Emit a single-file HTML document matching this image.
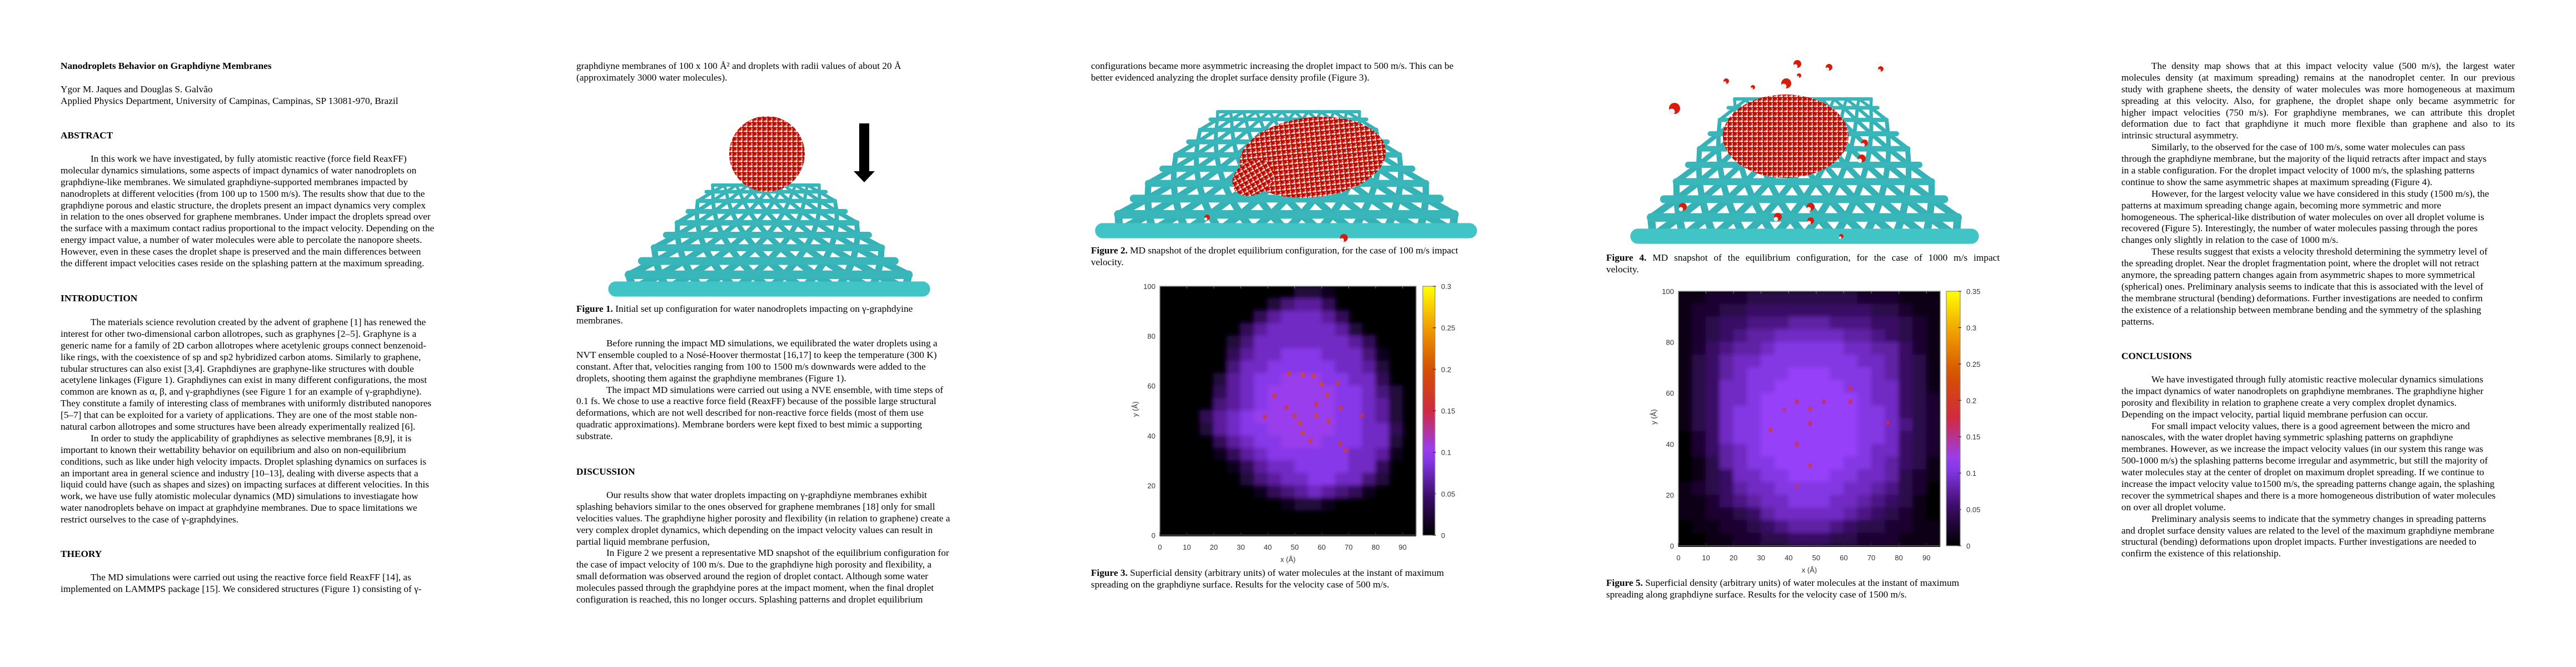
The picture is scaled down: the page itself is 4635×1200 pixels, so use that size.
<!DOCTYPE html>
<html><head><meta charset="utf-8">
<style>
html,body{margin:0;padding:0;background:#fff;}
body{width:4635px;height:1200px;position:relative;overflow:hidden;}
.blk{position:absolute;font:17.3px/20.9px "Liberation Serif","Times New Roman",serif;color:#000;white-space:nowrap;}
.blk div{height:20.9px;}
.in{padding-left:54px;}
.b{font-weight:bold;}
.jl{white-space:normal;text-align:justify;text-align-last:justify;overflow:hidden;}
#gfx{position:absolute;left:0;top:0;}
</style></head>
<body>
<svg id="gfx" width="4635" height="1200">
<defs>
<pattern id="waterPat" patternUnits="userSpaceOnUse" width="9" height="9">
<rect width="9" height="9" fill="#d21a0c"/>
<circle cx="2" cy="2" r="1.9" fill="#f4f4f4"/>
<circle cx="6.5" cy="6" r="2.6" fill="#a80e06"/>
<circle cx="7.5" cy="2.5" r="1.2" fill="#ffffff"/>
<circle cx="3" cy="7" r="1.1" fill="#ffffff"/>
</pattern>
<filter id="blur6" x="-5%" y="-5%" width="110%" height="110%"><feGaussianBlur stdDeviation="4"/></filter>
<filter id="blur1"><feGaussianBlur stdDeviation="1.2"/></filter>
</defs>
</svg>

<!-- Column 1 -->
<div class="blk" style="left:109px;top:109px;width:710px">
<div class="b">Nanodroplets Behavior on Graphdiyne Membranes</div>
</div>
<div class="blk" style="left:109px;top:151px">
<div>Ygor M. Jaques and Douglas S. Galvão</div>
<div>Applied Physics Department, University of Campinas, Campinas, SP 13081-970, Brazil</div>
</div>
<div class="blk b" style="left:109px;top:234px"><div>ABSTRACT</div></div>
<div class="blk" style="left:109px;top:276px">
<div class="in">In this work we have investigated, by fully atomistic reactive (force field ReaxFF)</div>
<div>molecular dynamics simulations, some aspects of impact dynamics of water nanodroplets on</div>
<div>graphdiyne-like membranes. We simulated graphdiyne-supported membranes impacted by</div>
<div>nanodroplets at different velocities (from 100 up to 1500 m/s). The results show that due to the</div>
<div>graphdiyne porous and elastic structure, the droplets present an impact dynamics very complex</div>
<div>in relation to the ones observed for graphene membranes. Under impact the droplets spread over</div>
<div>the surface with a maximum contact radius proportional to the impact velocity. Depending on the</div>
<div>energy impact value, a number of water molecules were able to percolate the nanopore sheets.</div>
<div>However, even in these cases the droplet shape is preserved and the main differences between</div>
<div>the different impact velocities cases reside on the splashing pattern at the maximum spreading.</div>
</div>
<div class="blk b" style="left:109px;top:527px"><div>INTRODUCTION</div></div>
<div class="blk" style="left:109px;top:570px">
<div class="in">The materials science revolution created by the advent of graphene [1] has renewed the</div>
<div>interest for other two-dimensional carbon allotropes, such as graphynes  [2–5]. Graphyne is a</div>
<div>generic name for a family of 2D carbon allotropes where acetylenic groups connect benzenoid-</div>
<div>like rings, with the coexistence of sp and sp2 hybridized carbon atoms. Similarly to graphene,</div>
<div>tubular structures can also exist [3,4]. Graphdiynes are graphyne-like structures with double</div>
<div>acetylene linkages (Figure 1). Graphdiynes can exist in many different configurations, the most</div>
<div>common are known as α, β, and γ-graphdiynes (see Figure 1 for an example of γ-graphdiyne).</div>
<div>They constitute a family of interesting class of membranes with uniformly distributed nanopores</div>
<div>[5–7] that can be exploited for a variety of applications. They are one of the most stable non-</div>
<div>natural carbon allotropes and some structures have been already experimentally realized [6].</div>
<div class="in">In order to study the applicability of graphdiynes as selective membranes [8,9], it is</div>
<div>important to known their wettability behavior on equilibrium and also on non-equilibrium</div>
<div>conditions, such as like under high velocity impacts. Droplet splashing dynamics on surfaces is</div>
<div>an important area in general science and industry [10–13], dealing with diverse aspects that a</div>
<div>liquid could have (such as shapes and sizes) on impacting surfaces at different velocities. In this</div>
<div>work, we have use fully atomistic molecular dynamics (MD) simulations to investiagate how</div>
<div>water nanodroplets behave on impact at graphdyine membranes. Due to space limitations we</div>
<div>restrict ourselves to the case of γ-graphdyines.</div>
</div>
<div class="blk b" style="left:109px;top:987px"><div>THEORY</div></div>
<div class="blk" style="left:109px;top:1029px">
<div class="in">The MD simulations were carried out using the reactive force field ReaxFF [14], as</div>
<div>implemented on LAMMPS package [15]. We considered structures (Figure 1) consisting of γ-</div>
</div>

<!-- Column 2 -->
<div class="blk" style="left:1037px;top:109px">
<div>graphdiyne membranes of 100 x 100 Å² and droplets with radii values of about 20 Å</div>
<div>(approximately 3000 water molecules).</div>
</div>
<div class="blk" style="left:1037px;top:546px">
<div><span class="b">Figure 1.</span> Initial set up configuration for water nanodroplets impacting on γ-graphdyine</div>
<div>membranes.</div>
</div>
<div class="blk" style="left:1037px;top:608px">
<div class="in">Before running the impact MD simulations, we equilibrated the water droplets using a</div>
<div>NVT ensemble coupled to a Nosé-Hoover thermostat [16,17] to keep the temperature (300 K)</div>
<div>constant. After that, velocities ranging from 100 to 1500 m/s downwards were added to the</div>
<div>droplets, shooting them against the graphdiyne membranes (Figure 1).</div>
<div class="in">The impact MD simulations were carried out using a NVE ensemble, with time steps of</div>
<div>0.1 fs. We chose to use a reactive force field (ReaxFF) because of the possible large structural</div>
<div>deformations, which are not well described for non-reactive force fields (most of them use</div>
<div>quadratic approximations). Membrane borders were kept fixed to best mimic a supporting</div>
<div>substrate.</div>
</div>
<div class="blk b" style="left:1037px;top:839px"><div>DISCUSSION</div></div>
<div class="blk" style="left:1037px;top:881px">
<div class="in">Our results show that water droplets impacting on γ-graphdiyne membranes exhibit</div>
<div>splashing behaviors similar to the ones observed for graphene membranes [18] only for small</div>
<div>velocities values. The graphdiyne higher porosity and flexibility (in relation to graphene) create a</div>
<div>very complex droplet dynamics, which depending on the impact velocity values can result in</div>
<div>partial liquid membrane perfusion,</div>
<div class="in">In Figure 2 we present a representative MD snapshot of the equilibrium configuration for</div>
<div>the case of impact velocity of 100 m/s. Due to the graphdiyne high porosity and flexibility, a</div>
<div>small deformation was observed around the region of droplet contact. Although some water</div>
<div>molecules passed through the graphdyine pores at the impact moment, when the final droplet</div>
<div>configuration is reached, this no longer occurs. Splashing patterns and droplet equilibrium</div>
</div>

<!-- Column 3 -->
<div class="blk" style="left:1963px;top:109px">
<div>configurations became more asymmetric increasing the droplet impact to 500 m/s. This can be</div>
<div>better evidenced analyzing the droplet surface density profile (Figure 3).</div>
</div>
<div class="blk" style="left:1963px;top:441px">
<div><span class="b">Figure 2.</span> MD snapshot of the droplet equilibrium configuration, for the case of 100 m/s impact</div>
<div>velocity.</div>
</div>
<div class="blk" style="left:1963px;top:1021px">
<div><span class="b">Figure 3.</span> Superficial density (arbitrary units) of water molecules at the instant of maximum</div>
<div>spreading on the graphdiyne surface. Results for the velocity case of 500 m/s.</div>
</div>

<!-- Column 4 -->
<div class="blk" style="left:2890px;top:454px;width:708px">
<div class="jl"><span class="b">Figure 4.</span> MD snapshot of the equilibrium configuration, for the case of 1000 m/s impact</div>
<div>velocity.</div>
</div>
<div class="blk" style="left:2890px;top:1039px">
<div><span class="b">Figure 5.</span> Superficial density (arbitrary units) of water molecules at the instant of maximum</div>
<div>spreading along graphdiyne surface. Results for the velocity case of 1500 m/s.</div>
</div>

<!-- Column 5 -->
<div class="blk" style="left:3817px;top:109px;width:708px">
<div class="jl in">The density map shows that at this impact velocity value (500 m/s), the largest water</div>
<div class="jl">molecules density (at maximum spreading) remains at the nanodroplet center. In our previous</div>
<div class="jl">study with graphene sheets, the density of water molecules was more homogeneous at maximum</div>
<div class="jl">spreading at this velocity. Also, for graphene, the droplet shape only became asymmetric for</div>
<div class="jl">higher impact velocities (750 m/s). For graphdiyne membranes, we can attribute this droplet</div>
<div class="jl">deformation due to fact that graphdiyne it much more flexible than graphene and also to its</div>
<div>intrinsic structural asymmetry.</div>
<div class="in">Similarly, to the observed for the case of 100 m/s, some water molecules can pass</div>
<div>through the graphdiyne membrane, but the majority of the liquid retracts after impact and stays</div>
<div>in a stable configuration. For the droplet impact velocity of 1000 m/s, the splashing patterns</div>
<div>continue to show the same asymmetric shapes at maximum spreading (Figure 4).</div>
<div class="in">However, for the largest velocity value we have considered in this study (1500 m/s), the</div>
<div>patterns at maximum spreading change again, becoming more symmetric and more</div>
<div>homogeneous. The spherical-like distribution of water molecules on over all droplet volume is</div>
<div>recovered (Figure 5). Interestingly, the number of water molecules passing through the pores</div>
<div>changes only slightly in relation to the case of 1000 m/s.</div>
<div class="in">These results suggest that exists a velocity threshold determining the symmetry level of</div>
<div>the spreading droplet. Near the droplet fragmentation point, where the droplet will not retract</div>
<div>anymore, the spreading pattern changes again from asymmetric shapes to more symmetrical</div>
<div>(spherical) ones. Preliminary analysis seems to indicate that this is associated with the level of</div>
<div>the membrane structural (bending) deformations. Further investigations are needed to confirm</div>
<div>the existence of a relationship between membrane bending and the symmetry of the splashing</div>
<div>patterns.</div>
</div>
<div class="blk b" style="left:3817px;top:631px"><div>CONCLUSIONS</div></div>
<div class="blk" style="left:3817px;top:673px">
<div class="in">We have investigated through fully atomistic reactive molecular dynamics simulations</div>
<div>the impact dynamics of water nanodroplets on graphdiyne membranes. The graphdiyne higher</div>
<div>porosity and flexibility in relation to graphene create a very complex droplet dynamics.</div>
<div>Depending on the impact velocity, partial liquid membrane perfusion can occur.</div>
<div class="in">For small impact velocity values, there is a good agreement between the micro and</div>
<div>nanoscales, with the water droplet having symmetric splashing patterns on graphdiyne</div>
<div>membranes. However, as we increase the impact velocity values (in our system this range was</div>
<div>500-1000 m/s) the splashing patterns become irregular and asymmetric, but still the majority of</div>
<div>water molecules stay at the center of droplet on maximum droplet spreading. If we continue to</div>
<div>increase the impact velocity value to1500 m/s, the spreading patterns change again, the splashing</div>
<div>recover the symmetrical shapes and there is a more homogeneous distribution of water molecules</div>
<div>on over all droplet volume.</div>
<div class="in">Preliminary analysis seems to indicate that the symmetry changes in spreading patterns</div>
<div>and droplet surface density values are related to the level of the maximum graphdiyne membrane</div>
<div>structural (bending) deformations upon droplet impacts. Further investigations are needed to</div>
<div>confirm the existence of this relationship.</div>
</div>

<script>
// ---- Chart data ----
const xTicks = [0, 10, 20, 30, 40, 50, 60, 70, 80, 90];
const yTicks = [0, 20, 40, 60, 80, 100];
const fig3CbTicks = [0, 0.05, 0.1, 0.15, 0.2, 0.25, 0.3];
const fig5CbTicks = [0, 0.05, 0.1, 0.15, 0.2, 0.25, 0.3, 0.35];
// density level per 5x5 Å cell (level * 0.013 = density), rows from y=100 (top) down to y=0, columns x=0..95
const fig3Rows = [
"0000000000221000000",
"0000000024553000000",
"0000000356665300000",
"0000003566666520000",
"0000024666666653000",
"0000035667776664100",
"0000046677777665200",
"0000256778887766300",
"0000356788888776420",
"0000456788888776520",
"0003567888888776520",
"0002567788888776630",
"0000356778887776620",
"0000135677777766510",
"0000013566777766300",
"0000002456677664200",
"0000000134565431000",
"0000000001221000000",
"0000000000000000000",
"0000000000000000000"];
const fig3HotX = [47.8, 53, 57, 60, 66, 42.5, 62, 58, 67, 50, 58, 52, 62.5, 53, 55.8, 66.8, 69, 39, 75, 47];
const fig3HotY = [65, 64.5, 64, 60.7, 61, 56, 56.4, 52.6, 51, 48, 48, 45, 45.8, 41, 38, 36.8, 34, 47.5, 48, 51.3];
const fig3HotV = [0.19, 0.2, 0.19, 0.2, 0.18, 0.18, 0.19, 0.17, 0.18, 0.18, 0.19, 0.2, 0.18, 0.2, 0.18, 0.17, 0.17, 0.16, 0.16, 0.17];
const fig5Rows = [
"1122233333333222111",
"1223344444444433211",
"1234455566655544321",
"1234566777776654321",
"1245667888887766421",
"1346778888888776431",
"1346788899988876431",
"1347788999998877431",
"1347789999999877432",
"1347889999999887432",
"1347889999999887532",
"0247889999999887432",
"0246789999999877432",
"0136788999998876431",
"0134778899988776321",
"1234677888887765320",
"1124567788877654310",
"1122346777776543210",
"0112234566654332211",
"0011223344433222111"];
const fig5HotX = [33.4, 47.8, 47.8, 43, 47.8, 43, 52.8, 62.4, 62.4, 38.4, 76, 43];
const fig5HotY = [45.5, 53.7, 48, 40, 31.5, 56.6, 56.6, 61.9, 56.6, 53.3, 48.3, 23.5];
const fig5HotV = [0.2, 0.21, 0.18, 0.19, 0.2, 0.18, 0.17, 0.18, 0.18, 0.16, 0.17, 0.16];

const NS = 'http://www.w3.org/2000/svg';
const svg = document.getElementById('gfx');
function mk(tag, attrs, parent) {
  const e = document.createElementNS(NS, tag);
  for (const k in attrs) e.setAttribute(k, attrs[k]);
  (parent || svg).appendChild(e);
  return e;
}
const stops = [[0,[0,0,0]],[0.15,[58,12,100]],[0.33,[148,64,255]],[0.5,[208,42,64]],[0.67,[212,80,0]],[0.83,[240,154,0]],[1,[255,255,0]]];
function cmap(f) {
  f = Math.max(0, Math.min(1, f));
  for (let i = 1; i < stops.length; i++) {
    if (f <= stops[i][0]) {
      const a = stops[i-1], b = stops[i], t = (f - a[0]) / (b[0] - a[0]);
      const c = a[1].map((v, k) => Math.round(v + (b[1][k] - v) * t));
      return 'rgb(' + c.join(',') + ')';
    }
  }
  return 'rgb(255,255,0)';
}

function drawHeatmap(name, cfg, rows, hotX, hotY, hotV, cbTicks, cmax) {
  const g = mk('g', {});
  
  
  const sx = x => cfg.L + x / cfg.xmax * (cfg.R - cfg.L);
  const sy = y => cfg.B - y / cfg.ymax * (cfg.B - cfg.T);
  const clipId = name + '-clip';
  const cp = mk('clipPath', {id: clipId}, g);
  mk('rect', {x: cfg.L, y: cfg.T, width: cfg.R - cfg.L, height: cfg.B - cfg.T}, cp);
  const bg = mk('rect', {x: cfg.L, y: cfg.T, width: cfg.R - cfg.L, height: cfg.B - cfg.T, fill: '#000'}, g);
  
  
  const clipG = mk('g', {'clip-path': 'url(#' + clipId + ')'}, g);
  const cells = mk('g', {filter: 'url(#blur6)'}, clipG);
  rows.forEach((row, r) => {
    const yTop = cfg.ymax - 5 * r;
    for (let c = 0; c < row.length; c++) {
      const v = parseInt(row[c], 10) * 0.013;
      const x0 = 5 * c;
      const cell = mk('rect', {x: sx(x0) - 0.5, y: sy(yTop) - 0.5, width: sx(x0 + 5) - sx(x0) + 1, height: sy(yTop - 5) - sy(yTop) + 1, fill: cmap(v / cmax)}, cells);
      
      
    }
  });
  const hot = mk('g', {filter: 'url(#blur1)'}, clipG);
  hotX.forEach((x, i) => {
    const dot = mk('ellipse', {cx: sx(x), cy: sy(hotY[i]), rx: 3.2, ry: 4, fill: cmap(hotV[i] / cmax)}, hot);
    
    
  });
  const frame = mk('rect', {x: cfg.L, y: cfg.T, width: cfg.R - cfg.L, height: cfg.B - cfg.T, fill: 'none', stroke: '#8a8a8a', 'stroke-width': 1.5}, g);
  
  
  const base = mk('line', {x1: cfg.L, x2: cfg.R, y1: cfg.B + 1, y2: cfg.B + 1, stroke: '#222', 'stroke-width': 2}, g);
  
  
  xTicks.forEach(t => {
    const tk = mk('line', {x1: sx(t), x2: sx(t), y1: cfg.B + 2, y2: cfg.B - 5, stroke: '#333', 'stroke-width': 1.2}, g);
    
    
    const tt = mk('line', {x1: sx(t), x2: sx(t), y1: cfg.T, y2: cfg.T + 4, stroke: '#888', 'stroke-width': 1}, g);
    
    
    const lb = mk('text', {x: sx(t), y: cfg.B + 26, 'text-anchor': 'middle', 'font-family': 'Liberation Sans, sans-serif', 'font-size': 13, fill: '#333'}, g);
    lb.textContent = t;
    
    
  });
  yTicks.forEach(t => {
    const lb = mk('text', {x: cfg.L - 8, y: sy(t) + 5, 'text-anchor': 'end', 'font-family': 'Liberation Sans, sans-serif', 'font-size': 13, fill: '#333'}, g);
    lb.textContent = t;
    
    
  });
  const xt = mk('text', {x: (cfg.L + cfg.R) / 2, y: cfg.B + 48, 'text-anchor': 'middle', 'font-family': 'Liberation Sans, sans-serif', 'font-size': 13, fill: '#333'}, g);
  xt.textContent = 'x (Å)';
  
  
  const yc = (cfg.T + cfg.B) / 2 - 3;
  const yt = mk('text', {x: cfg.L - 40, y: yc, 'text-anchor': 'middle', 'font-family': 'Liberation Sans, sans-serif', 'font-size': 13, fill: '#333', transform: 'rotate(-90 ' + (cfg.L - 40) + ' ' + yc + ')'}, g);
  yt.textContent = 'y (Å)';
  
  
  const gradId = name + '-grad';
  const lg = mk('linearGradient', {id: gradId, x1: 0, y1: 1, x2: 0, y2: 0}, g);
  for (let i = 0; i <= 20; i++) mk('stop', {offset: i / 20, 'stop-color': cmap(i / 20)}, lg);
  const cb = mk('rect', {x: cfg.cbL, y: cfg.T, width: cfg.cbR - cfg.cbL, height: cfg.B - cfg.T, fill: 'url(#' + gradId + ')', stroke: '#8a8a8a', 'stroke-width': 1.2}, g);
  
  
  const cy = v => cfg.B - v / cmax * (cfg.B - cfg.T);
  cbTicks.forEach(v => {
    const tk = mk('line', {x1: cfg.cbR - 4, x2: cfg.cbR + 2, y1: cy(v), y2: cy(v), stroke: '#333', 'stroke-width': 1.2}, g);
    
    
    const lb = mk('text', {x: cfg.cbR + 11, y: cy(v) + 5, 'font-family': 'Liberation Sans, sans-serif', 'font-size': 13, fill: '#333'}, g);
    lb.textContent = v;
    
    
  });
}

drawHeatmap('figure-3-density-map', {L: 2087, R: 2548, T: 515, B: 963, xmax: 95, ymax: 100, cbL: 2560, cbR: 2582}, fig3Rows, fig3HotX, fig3HotY, fig3HotV, fig3CbTicks, 0.3);
drawHeatmap('figure-5-density-map', {L: 3020, R: 3491, T: 524, B: 982, xmax: 95, ymax: 100, cbL: 3502, cbR: 3527}, fig5Rows, fig5HotX, fig5HotY, fig5HotV, fig5CbTicks, 0.35);

// ---- molecular snapshots (illustrations) ----
function drawSheet(name, s) {
  const g = mk('g', {});
  
  
  const rows = s.rows, cols = s.cols;
  const rowT = i => Math.pow(i / rows, 1.25);
  const rowY = i => s.ty + (s.by - s.ty) * rowT(i);
  const rowX = (i, u) => {
    const t = rowT(i);
    const x1 = s.tx1 + (s.bx1 - s.tx1) * t, x2 = s.tx2 + (s.bx2 - s.tx2) * t;
    return x1 + (x2 - x1) * u;
  };
  const wid = i => 6 + 11 * rowT(i);
  for (let i = 0; i < rows; i++) {
    const off = (i % 2) * 0.5;
    for (let j = -1; j <= cols; j++) {
      const u0 = (j + off) / cols, u1 = (j + off + 0.5) / cols, u2 = (j + off + 1) / cols;
      if (u1 < 0 || u1 > 1) continue;
      const w = (wid(i) + wid(i + 1)) / 2 * 0.85;
      if (u0 >= 0) {
        const d1 = mk('line', {x1: rowX(i, u0), y1: rowY(i), x2: rowX(i + 1, u1), y2: rowY(i + 1), stroke: '#36b2b6', 'stroke-width': w, 'stroke-linecap': 'round'}, g);
        
        
      }
      if (u2 <= 1) {
        const d2 = mk('line', {x1: rowX(i, u2), y1: rowY(i), x2: rowX(i + 1, u1), y2: rowY(i + 1), stroke: '#36b2b6', 'stroke-width': w, 'stroke-linecap': 'round'}, g);
        
        
      }
    }
  }
  for (let i = 0; i <= rows; i++) {
    const h = mk('line', {x1: rowX(i, 0), y1: rowY(i), x2: rowX(i, 1), y2: rowY(i), stroke: i === rows ? '#40c4c6' : '#38b6b9', 'stroke-width': wid(i) * (i === rows ? 1.6 : 1), 'stroke-linecap': 'round'}, g);
    
    
  }
  return g;
}
function drawDrop(name, cx, cy, rx, ry, rot) {
  const e = mk('ellipse', {cx: cx, cy: cy, rx: rx, ry: ry, fill: 'url(#waterPat)', transform: 'rotate(' + rot + ' ' + cx + ' ' + cy + ')'});
  
  
}
function drawMol(cx, cy, r) {
  const m = mk('circle', {cx: cx, cy: cy, r: r, fill: '#d81c0c'});
  
  
  const h = mk('circle', {cx: cx - r * 0.5, cy: cy + r * 0.6, r: r * 0.55, fill: '#f2f2f2'});
  
  
}

drawSheet('figure-1-membrane', {ty: 333, tx1: 1282, tx2: 1474, by: 520, bx1: 1108, bx2: 1660, rows: 9, cols: 9});
drawDrop('figure-1-droplet', 1380, 277, 68, 68, 0);
const shaft = mk('rect', {x: 1546, y: 222, width: 18, height: 88, fill: '#000'});


const head = mk('polygon', {points: '1536,308 1574,308 1555,328', fill: '#000'});



drawSheet('figure-2-membrane', {ty: 201, tx1: 2191, tx2: 2446, by: 415, bx1: 1984, bx2: 2644, rows: 9, cols: 11});
drawDrop('figure-2-droplet', 2362, 283, 132, 72, -6);
drawDrop('figure-2-droplet-tail', 2255, 320, 40, 30, -30);
drawMol(2418, 428, 7);
drawMol(2172, 391, 5);

drawSheet('figure-4-membrane', {ty: 178, tx1: 3121, tx2: 3367, by: 425, bx1: 2947, bx2: 3547, rows: 9, cols: 11});
drawDrop('figure-4-droplet', 3213, 245, 113, 75, 0);
drawMol(3013, 195, 10);
drawMol(3214, 150, 9);
drawMol(3234, 115, 7);
drawMol(3291, 121, 6);
drawMol(3384, 124, 5);
drawMol(3106, 146, 5);
drawMol(3154, 157, 4);
drawMol(3237, 136, 4);
drawMol(3350, 285, 7);
drawMol(3355, 257, 6);
drawMol(3028, 372, 7);
drawMol(3199, 390, 7);
drawMol(3258, 372, 7);
drawMol(3258, 397, 6);
drawMol(3313, 425, 4);
</script>
</body></html>
